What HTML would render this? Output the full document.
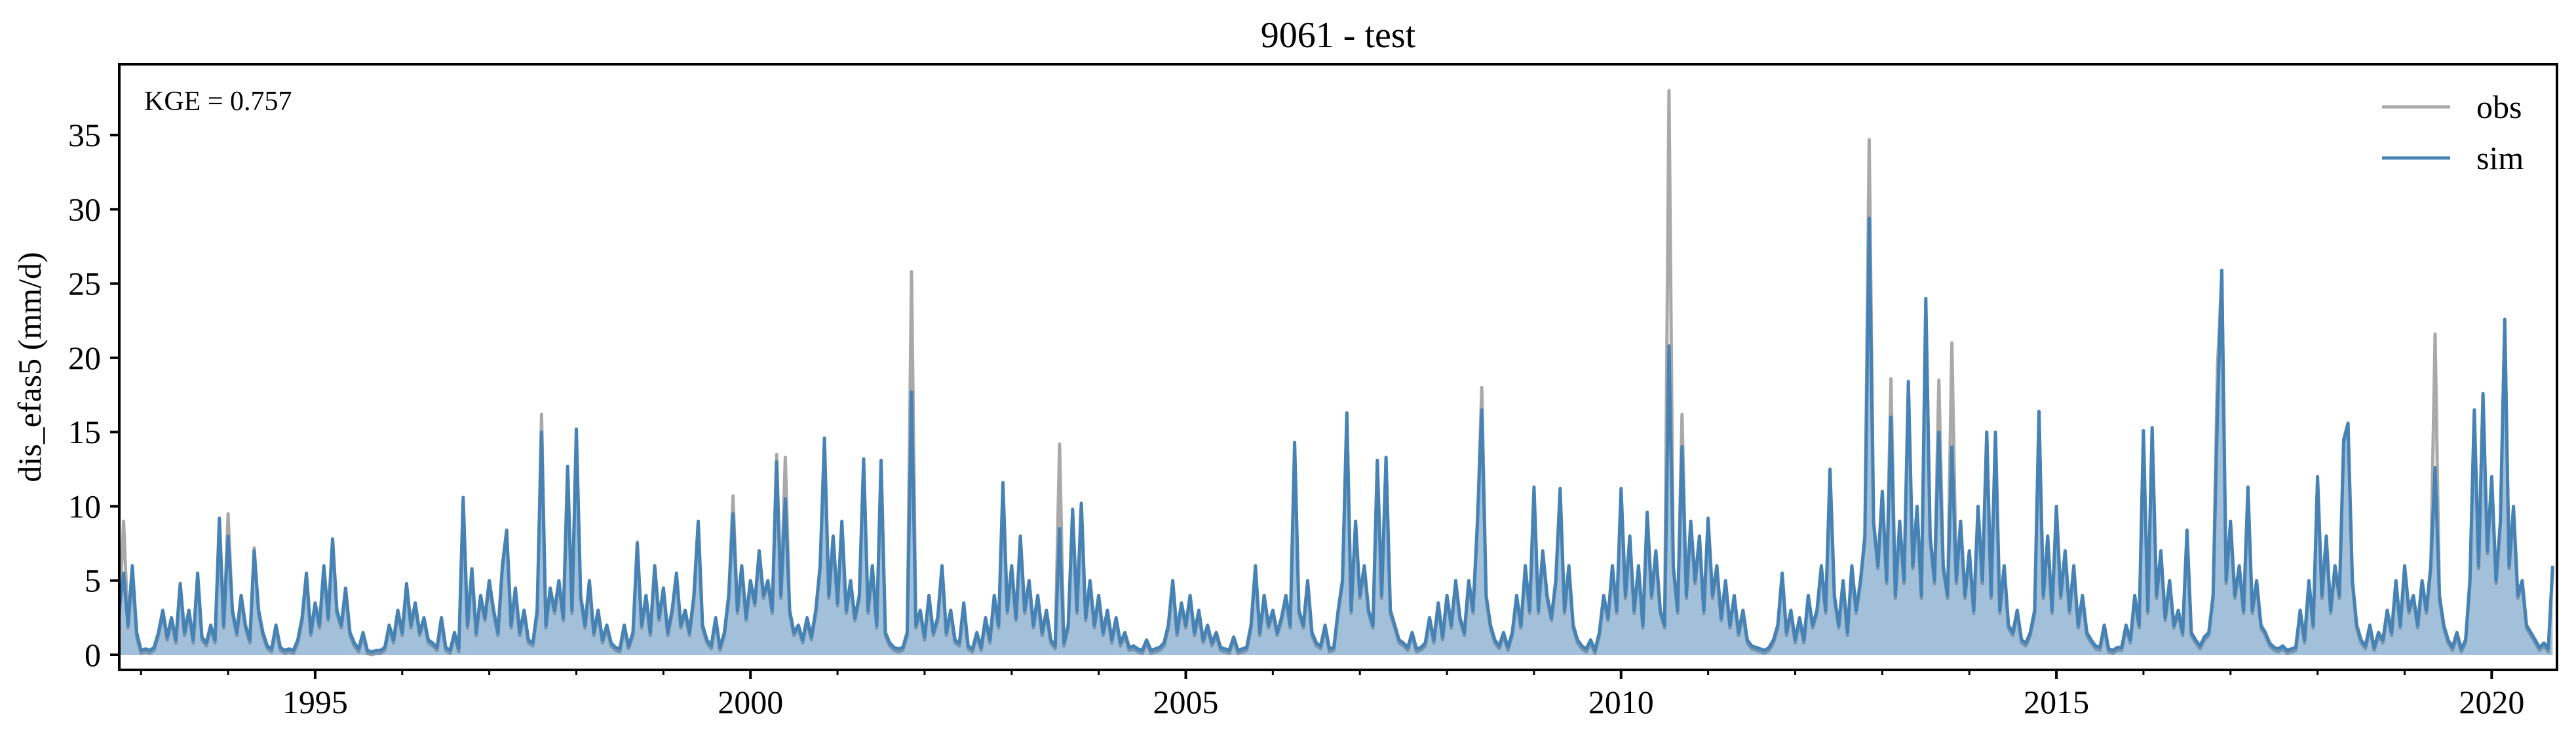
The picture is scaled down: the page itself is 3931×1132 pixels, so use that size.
<!DOCTYPE html>
<html>
<head>
<meta charset="utf-8">
<style>
html,body{margin:0;padding:0;background:#fff;}
svg{display:block;}
text{font-family:"Liberation Serif",serif;fill:#000;}
</style>
</head>
<body>
<svg id="chart" width="3931" height="1132" viewBox="0 0 3931 1132" xmlns="http://www.w3.org/2000/svg">
  <rect x="0" y="0" width="3931" height="1132" fill="#fff"/>
  <text x="2042" y="72" font-size="56" text-anchor="middle">9061 - test</text>
  <text transform="translate(62,560) rotate(-90)" font-size="50" text-anchor="middle">dis_efas5 (mm/d)</text>
  <clipPath id="plotclip"><rect x="182" y="98" width="3720" height="924"/></clipPath>
  <g id="series" clip-path="url(#plotclip)"></g>
  <g id="axes"></g>
  <rect x="182" y="98" width="3720" height="924" fill="none" stroke="#000" stroke-width="4"/>
  <text x="220" y="168" font-size="42">KGE = 0.757</text>
  <g>
    <line x1="3635" y1="163" x2="3739" y2="163" stroke="#a9a9a9" stroke-width="5"/>
    <text x="3779" y="180" font-size="50">obs</text>
    <line x1="3635" y1="241" x2="3739" y2="241" stroke="#4682b4" stroke-width="5"/>
    <text x="3779" y="258" font-size="50">sim</text>
  </g>
</svg>
<script>
// time axis: water years starting Oct (1992.75), 20 samples per year (step 0.05 yr)
const startYear = 1992.75;
const stepYears = 0.05;
const yTicks = [0, 5, 10, 15, 20, 25, 30, 35];
const xMajorTicks = [1995, 2000, 2005, 2010, 2015, 2020];
const xMinorTicks = [1993,1994,1996,1997,1998,1999,2001,2002,2003,2004,2006,2007,2008,2009,2011,2012,2013,2014,2016,2017,2018,2019];

const simValues = [
3,5.5,2,6,1.5,0.3,0.4,0.3,0.5,1.5,3,1.2,2.5,1,4.8,1.5,3,1,5.5,1.2,
0.8,2,1,9.2,2,8,3,1.5,4,2,1,7,3,1.5,0.6,0.4,2,0.5,0.3,0.4,
0.3,1,2.5,5.5,1.5,3.5,2,6,2.5,7.8,3,2,4.5,1.5,0.8,0.4,1.5,0.3,0.2,0.3,
0.3,0.5,2,1,3,1.5,4.8,2,3.5,1.5,2.5,1,0.8,0.5,2.5,0.5,0.3,1.5,0.4,10.6,
2,5.8,1.5,4,2.5,5,3,1.5,6,8.4,2,4.5,1.5,3,1,0.8,3,15,2,4.5,
3,5,2.5,12.7,3,15.2,4,2,5,1.5,3,1,2,0.8,0.5,0.4,2,0.6,1.5,7.5,
2,4,1.5,6,2.5,4.5,1.5,3,5.5,2,3,1.5,4,9,2,1,0.6,2.5,0.5,1.5,
4,9.5,3,6,2.5,5,3.5,7,4,5,3,13,4,10.5,3,1.5,2,1,2.5,1.2,
3,6,14.6,4,8,3.5,9,3,5,2.5,4,13.2,3,6,2,13.1,1.5,0.8,0.5,0.4,
0.5,1.5,17.7,2,3,1.2,4,1.5,2.5,6,1.5,3,1,0.8,3.5,0.6,0.4,1.5,0.5,2.5,
1,4,2,11.6,3,6,2.5,8,3,5,2,4,1.5,3,1,0.6,8.5,0.8,2,9.8,
3,10.2,2.5,5,2,4,1.5,3,1,2.5,0.8,1.5,0.5,0.6,0.4,0.3,1,0.3,0.4,0.5,
0.8,2,5,1.5,3.5,2,4,1.5,3,1,2,0.8,1.5,0.5,0.4,0.3,1.2,0.3,0.4,0.5,
2,6,1.5,4,2,3,1.5,2.5,4,2,14.3,3,2,5,1.5,0.8,0.6,2,0.4,0.5,
3,5,16.3,3,9,4,6,3,2,13.1,4,13.3,3,2,1,0.8,0.5,1.5,0.4,0.5,
0.8,2.5,1,3.5,1.2,4,2,5,2.5,1.5,5,3,9,16.5,4,2,1,0.6,1.5,0.5,
1.5,4,2,6,3,11.3,3,7,4,2.5,5,11.2,3,6,2,1,0.6,0.4,1,0.3,
1.5,4,2.5,6,3,11.2,4,8,3,6,2,9.6,4,7,3,2,20.8,6,3,14,
4,9,5,8,3,9.2,4,6,2.5,5,2,4,1.5,3,1,0.6,0.5,0.4,0.3,0.5,
1,2,5.5,1.5,3,1,2.5,1,4,2,3,6,3,12.5,4,2,5,1.5,6,3,
5,8,29.4,9,6,11,5,16,4,9,5,18.4,6,10,4,24,8,5,15,6,
4,14,5,9,4,7,3,10,5,15,4,15,3,6,2,1.5,3,1,0.8,1.5,
3,16.4,4,8,3,10,4,7,3,6,2,4,1.5,1,0.6,0.5,2,0.4,0.3,0.5,
0.5,2,1,4,2,15.1,3,15.3,4,7,2.5,5,2,3,1.5,8.4,1.5,1,0.6,1.2,
1.5,4,16.5,25.9,5,9,4,6,3,11.3,3,5,2,1.5,0.8,0.5,0.4,0.6,0.3,0.4,
0.5,3,1,5,2,12,4,8,3,6,4,14.5,15.6,5,2,1,0.6,2,0.5,1.5,
1,3,1.5,5,2,6,3,4,2,5,3,6,12.6,4,2,1,0.5,1.5,0.4,1,
5,16.5,6,17.6,7,12,5,9,22.6,6,10,4,5,2,1.5,1,0.5,0.8,0.4,6
];

const obsValues = [
2.6,9,1.8,5.5,1.2,0.1,0.2,0.1,0.3,1.3,2.8,1,2.3,0.8,4.6,1.3,2.8,0.8,5.2,1,
0.6,1.8,0.8,8.8,1.8,9.5,2.8,1.3,3.8,1.8,0.8,7.2,2.8,1.3,0.4,0.2,1.8,0.3,0.1,0.2,
0.1,0.8,2.3,5.3,1.3,3.3,1.8,5.8,2.3,7.8,2.8,1.8,4.3,1.3,0.6,0.2,1.3,0.1,0,0.1,
0.1,0.3,1.8,0.8,2.8,1.3,4.6,1.8,3.3,1.3,2.3,0.8,0.6,0.3,2.3,0.3,0.1,1.3,0.2,10.2,
1.8,5.6,1.3,3.8,2.3,4.8,2.8,1.3,5.8,8.3,1.8,4.3,1.3,2.8,0.8,0.6,2.8,16.2,1.8,4.3,
2.8,4.8,2.3,12.2,2.8,14.8,3.8,1.8,4.8,1.3,2.8,0.8,1.8,0.6,0.3,0.2,1.8,0.4,1.3,7.6,
1.8,3.8,1.3,5.8,2.3,4.3,1.3,2.8,5.3,1.8,2.8,1.3,3.8,8.8,1.8,0.8,0.4,2.3,0.3,1.3,
3.8,10.7,2.8,5.8,2.3,4.8,3.3,6.8,3.8,4.8,2.8,13.5,3.8,13.3,2.8,1.3,1.8,0.8,2.3,1,
2.8,5.8,14.2,3.8,7.8,3.3,8.8,2.8,4.8,2.3,3.8,13,2.8,5.8,1.8,12.8,1.3,0.6,0.3,0.2,
0.3,1.3,25.8,1.8,2.8,1,3.8,1.3,2.3,5.8,1.3,2.8,0.8,0.6,3.3,0.4,0.2,1.3,0.3,2.3,
0.8,3.8,1.8,11.3,2.8,5.8,2.3,7.8,2.8,4.8,1.8,3.8,1.3,2.8,0.8,0.4,14.2,0.6,1.8,9.6,
2.8,10.2,2.3,4.8,1.8,3.8,1.3,2.8,0.8,2.3,0.6,1.3,0.3,0.4,0.2,0.1,0.8,0.1,0.2,0.3,
0.6,1.8,4.8,1.3,3.3,1.8,3.8,1.3,2.8,0.8,1.8,0.6,1.3,0.3,0.2,0.1,1,0.1,0.2,0.3,
1.8,5.8,1.3,3.8,1.8,2.8,1.3,2.3,3.8,1.8,14,2.8,1.8,4.8,1.3,0.6,0.4,1.8,0.2,0.3,
2.8,4.8,16.2,2.8,8.8,3.8,5.8,2.8,1.8,13,3.8,13.1,2.8,1.8,0.8,0.6,0.3,1.3,0.2,0.3,
0.6,2.3,0.8,3.3,1,3.8,1.8,4.8,2.3,1.3,4.8,2.8,8.8,18,3.8,1.8,0.8,0.4,1.3,0.3,
1.3,3.8,1.8,5.8,2.8,11,2.8,6.8,3.8,2.3,4.8,11,2.8,5.8,1.8,0.8,0.4,0.2,0.8,0.1,
1.3,3.8,2.3,5.8,2.8,11,3.8,7.8,2.8,5.8,1.8,9.4,3.8,6.8,2.8,1.8,38,5.8,2.8,16.2,
3.8,8.8,4.8,7.8,2.8,9,3.8,5.8,2.3,4.8,1.8,3.8,1.3,2.8,0.8,0.4,0.3,0.2,0.1,0.3,
0.8,1.8,5.3,1.3,2.8,0.8,2.3,0.8,3.8,1.8,2.8,5.8,2.8,12.3,3.8,1.8,4.8,1.3,5.8,2.8,
4.8,7.8,34.7,8.8,5.8,10.8,4.8,18.6,3.8,8.8,4.8,18.2,5.8,9.8,3.8,23.8,7.8,4.8,18.5,5.8,
3.8,21,4.8,8.8,3.8,6.8,2.8,9.8,4.8,14.8,3.8,14.8,2.8,5.8,1.8,1.3,2.8,0.8,0.6,1.3,
2.8,16.2,3.8,7.8,2.8,9.8,3.8,6.8,2.8,5.8,1.8,3.8,1.3,0.8,0.4,0.3,1.8,0.2,0.1,0.3,
0.3,1.8,0.8,3.8,1.8,14.8,2.8,15,3.8,6.8,2.3,4.8,1.8,2.8,1.3,8.2,1.3,0.8,0.4,1,
1.3,3.8,19.4,25.6,4.8,8.8,3.8,5.8,2.8,11,2.8,4.8,1.8,1.3,0.6,0.3,0.2,0.4,0.1,0.2,
0.3,2.8,0.8,4.8,1.8,11.8,3.8,7.8,2.8,5.8,3.8,14.3,15.4,4.8,1.8,0.8,0.4,1.8,0.3,1.3,
0.8,2.8,1.3,4.8,1.8,5.8,2.8,3.8,1.8,4.8,2.8,5.8,21.6,3.8,1.8,0.8,0.3,1.3,0.2,0.8,
4.8,16.2,5.8,17.4,6.8,11.8,4.8,8.8,22.3,5.8,9.8,3.8,4.8,1.8,1.3,0.8,0.3,0.6,0.2,5.8
];

const plotLeft = 182, plotRight = 3902, plotTop = 98, plotBottom = 1022;
const xMin = 1992.75, xMax = 2020.75;
const yMin = -1.015, yMax = 39.77;
function xScale(t){ return plotLeft + (t - xMin) / (xMax - xMin) * (plotRight - plotLeft); }
function yScale(v){ return plotBottom - (v - yMin) / (yMax - yMin) * (plotBottom - plotTop); }
const NS = "http://www.w3.org/2000/svg";

function buildPath(values){
  let d = "";
  for (let i = 0; i < values.length; i++){
    const t = startYear + i * stepYears;
    d += (i === 0 ? "M" : "L") + xScale(t).toFixed(1) + "," + yScale(values[i]).toFixed(1);
  }
  return d;
}
function buildArea(values){
  const base = yScale(0).toFixed(1);
  const last = startYear + (values.length - 1) * stepYears;
  return buildPath(values) + "L" + xScale(last).toFixed(1) + "," + base + "L" + xScale(startYear).toFixed(1) + "," + base + "Z";
}
const seriesG = document.getElementById("series");
const obsPath = document.createElementNS(NS, "path");
obsPath.setAttribute("d", buildPath(obsValues));
obsPath.setAttribute("fill", "none");
obsPath.setAttribute("stroke", "#a9a9a9");
obsPath.setAttribute("stroke-width", "5");
obsPath.setAttribute("stroke-linejoin", "round");


seriesG.appendChild(obsPath);
const simArea = document.createElementNS(NS, "path");
simArea.setAttribute("d", buildArea(simValues));
simArea.setAttribute("fill", "#4682b4");
simArea.setAttribute("fill-opacity", "0.5");
simArea.setAttribute("stroke", "none");


seriesG.appendChild(simArea);
const simPath = document.createElementNS(NS, "path");
simPath.setAttribute("d", buildPath(simValues));
simPath.setAttribute("fill", "none");
simPath.setAttribute("stroke", "#4682b4");
simPath.setAttribute("stroke-width", "5");
simPath.setAttribute("stroke-linejoin", "round");


seriesG.appendChild(simPath);

const axesG = document.getElementById("axes");
yTicks.forEach(function(v){
  const y = yScale(v);
  const tk = document.createElementNS(NS, "line");
  tk.setAttribute("x1", plotLeft - 14); tk.setAttribute("x2", plotLeft);
  tk.setAttribute("y1", y); tk.setAttribute("y2", y);
  tk.setAttribute("stroke", "#000"); tk.setAttribute("stroke-width", "4");
  
  
  axesG.appendChild(tk);
  const lb = document.createElementNS(NS, "text");
  lb.setAttribute("x", plotLeft - 28); lb.setAttribute("y", y + 17);
  lb.setAttribute("font-size", "50"); lb.setAttribute("text-anchor", "end");
  lb.textContent = String(v);
  
  
  axesG.appendChild(lb);
});
xMajorTicks.forEach(function(yr){
  const x = xScale(yr);
  const tk = document.createElementNS(NS, "line");
  tk.setAttribute("x1", x); tk.setAttribute("x2", x);
  tk.setAttribute("y1", plotBottom); tk.setAttribute("y2", plotBottom + 14);
  tk.setAttribute("stroke", "#000"); tk.setAttribute("stroke-width", "4");
  
  
  axesG.appendChild(tk);
  const lb = document.createElementNS(NS, "text");
  lb.setAttribute("x", x); lb.setAttribute("y", 1088);
  lb.setAttribute("font-size", "50"); lb.setAttribute("text-anchor", "middle");
  lb.textContent = String(yr);
  
  
  axesG.appendChild(lb);
});
xMinorTicks.forEach(function(yr){
  const x = xScale(yr);
  const tk = document.createElementNS(NS, "line");
  tk.setAttribute("x1", x); tk.setAttribute("x2", x);
  tk.setAttribute("y1", plotBottom); tk.setAttribute("y2", plotBottom + 8);
  tk.setAttribute("stroke", "#000"); tk.setAttribute("stroke-width", "3");
  
  
  axesG.appendChild(tk);
});
</script>
</body>
</html>
